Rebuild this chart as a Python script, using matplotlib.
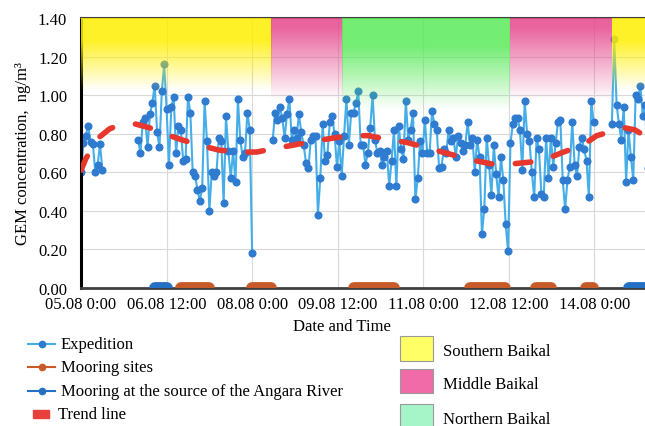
import numpy as np
import pandas as pd
import matplotlib
matplotlib.use("Agg")
import matplotlib.pyplot as plt
import matplotlib.dates as mdates
from matplotlib.lines import Line2D
from matplotlib.patches import Rectangle

plt.rcParams['font.family'] = ['Liberation Serif', 'DejaVu Serif']

## expedition data, hourly values, one list per continuous stretch
exp_starts = ['2019-08-05 00:00', '2019-08-06 00:00', '2019-08-08 08:40', '2019-08-14 07:20']
exp_seg1 = [0.60, 0.75, 0.79, 0.84, 0.755, 0.745, 0.60, 0.64, 0.745, 0.61]
exp_seg2 = [0.77, 0.70, 0.86, 0.88, 0.73, 0.90, 0.96, 1.05, 0.81, 0.73,
            1.02, 1.16, 0.93, 0.64, 0.94, 0.99, 0.70, 0.84, 0.82, 0.66,
            0.67, 0.99, 0.91, 0.60, 0.58, 0.51, 0.45, 0.52, 0.97, 0.76,
            0.40, 0.60, 0.58, 0.60, 0.78, 0.76, 0.44, 0.89, 0.71, 0.57,
            0.71, 0.55, 0.98, 0.77, 0.68, 0.70, 0.91, 0.82, 0.18]
exp_seg3 = [0.77, 0.91, 0.87, 0.94, 0.88, 0.78, 0.90, 0.98, 0.77, 0.82,
            0.78, 0.90, 0.81, 0.74, 0.65, 0.62, 0.77, 0.79, 0.79, 0.38,
            0.57, 0.85, 0.66, 0.69, 0.86, 0.89, 0.80, 0.63, 0.76, 0.58,
            0.79, 0.98, 0.74, 0.91, 0.91, 0.96, 1.02, 0.74, 0.74, 0.64,
            0.70, 0.83, 1.00, 0.77, 0.70, 0.71, 0.64, 0.68, 0.71, 0.53,
            0.66, 0.82, 0.53, 0.84, 0.72, 0.67, 0.97, 0.77, 0.82, 0.91,
            0.46, 0.57, 0.76, 0.70, 0.87, 0.70, 0.70, 0.92, 0.85, 0.82,
            0.62, 0.63, 0.72, 0.70, 0.82, 0.76, 0.78, 0.68, 0.79, 0.75,
            0.71, 0.74, 0.86, 0.74, 0.78, 0.60, 0.77, 0.68, 0.28, 0.41,
            0.78, 0.64, 0.48, 0.74, 0.59, 0.47, 0.68, 0.56, 0.33, 0.19,
            0.75, 0.85, 0.88, 0.88, 0.82, 0.61, 0.97, 0.80, 0.76, 0.60,
            0.47, 0.78, 0.72, 0.49, 0.47, 0.78, 0.57, 0.78, 0.63, 0.75,
            0.86, 0.87, 0.56, 0.41, 0.56, 0.63, 0.86, 0.64, 0.58, 0.73,
            0.78, 0.72, 0.66, 0.47, 0.97, 0.86]
exp_seg4 = [0.85, 1.29, 0.95, 0.85, 0.77, 0.94, 0.55, 0.82, 0.68, 0.56,
            1.00, 0.98, 1.05, 0.89, 0.95, 0.62, 0.75]

## trend line (hours since 05.08 0:00)
trend_h = [0, 2, 4, 6, 8, 12, 16, 23, 29, 35, 42, 50, 58, 67, 74, 82, 89, 97, 105, 113,
           121, 129, 137, 143, 152, 158, 166, 173, 181, 189, 196, 203, 211, 217, 224,
           229, 233, 237, 241, 252]
trend_v = [0.61, 0.67, 0.71, 0.75, 0.785, 0.825, 0.845, 0.85, 0.83, 0.80, 0.77, 0.74,
           0.715, 0.705, 0.705, 0.725, 0.74, 0.76, 0.775, 0.79, 0.79, 0.77, 0.755, 0.735,
           0.705, 0.685, 0.66, 0.643, 0.643, 0.653, 0.67, 0.705, 0.74, 0.79, 0.815, 0.83,
           0.82, 0.79, 0.76, 0.70]

## mooring periods
mooring_sites = [('2019-08-06 18:00', '2019-08-07 06:00'), ('2019-08-08 00:00', '2019-08-08 08:00'),
                 ('2019-08-09 19:00', '2019-08-10 11:30'), ('2019-08-11 19:30', '2019-08-12 10:30'),
                 ('2019-08-12 23:30', '2019-08-13 05:40'), ('2019-08-13 20:20', '2019-08-13 23:20')]
mooring_angara = [('2019-08-06 07:00', '2019-08-06 12:00'), ('2019-08-14 14:30', '2019-08-15 12:00')]

## lake basins along the route
basin_names = ['Southern', 'Middle', 'Northern', 'Middle', 'Southern']
basin_edges = ['2019-08-05 00:00', '2019-08-08 08:00', '2019-08-09 14:00',
               '2019-08-12 12:30', '2019-08-14 07:20', '2019-08-15 12:00']

basin_style = {
    'Southern': ((1.0, 0.94, 0.0), 1.28, 1.02),
    'Middle': ((0.90, 0.28, 0.55), 1.35, 0.97),
    'Northern': ((0.36, 0.92, 0.36), 1.25, 0.92),
}

c_line = '#45AEE8'
c_mark = '#2F7BD0'
c_orange = '#C65A28'
c_blue = '#2470C4'
c_red = '#E8372C'

W, H = 645, 427
fig = plt.figure(figsize=(W / 100, H / 100), dpi=100)
ax = fig.add_axes([81 / W, 138 / H, 599 / W, 270 / H])

t0 = pd.Timestamp(basin_edges[0])
t_end = pd.Timestamp(basin_edges[-1])

# expedition
for start, seg in zip(exp_starts, [exp_seg1, exp_seg2, exp_seg3, exp_seg4]):
    t = pd.date_range(start, periods=len(seg), freq='h')
    ax.plot(t, seg, color=c_line, lw=1.5, marker='o', ms=4.8, mfc=c_mark, mec=c_mark, zorder=2)

# gradient overlays for basins
yy = np.linspace(1.4, 0.9, 200)
for i, name in enumerate(basin_names):
    rgb, v1, v0 = basin_style[name]
    a = 0.85 * np.clip((yy - v0) / (v1 - v0), 0, 1)
    img = np.zeros((len(yy), 1, 4))
    img[:, 0, :3] = rgb
    img[:, 0, 3] = a
    x0 = mdates.date2num(pd.Timestamp(basin_edges[i]))
    x1 = mdates.date2num(pd.Timestamp(basin_edges[i + 1]))
    ax.imshow(img, extent=[x0, x1, 0.9, 1.4], aspect='auto', zorder=3, interpolation='bilinear')

# trend
trend_t = t0 + pd.to_timedelta(trend_h, unit='h')
ax.plot(trend_t, trend_v, color=c_red, lw=4, dashes=(2.8, 4.2), dash_capstyle='round', zorder=5)

# mooring bars
for s, e in mooring_sites:
    ax.plot([pd.Timestamp(s), pd.Timestamp(e)], [0, 0], color=c_orange, lw=8.5,
            solid_capstyle='round', zorder=6)
for s, e in mooring_angara:
    ax.plot([pd.Timestamp(s), pd.Timestamp(e)], [0, 0], color=c_blue, lw=8.5,
            solid_capstyle='round', zorder=6)

ax.set_xlim(t0, t_end)
ax.set_ylim(0, 1.4)
ax.set_yticks(np.arange(0, 1.41, 0.2))
ax.set_yticklabels([f'{v:.2f}' for v in np.arange(0, 1.41, 0.2)])
xt = pd.date_range(t0, periods=7, freq='36h')
ax.set_xticks(xt)
ax.set_xticklabels([f'{d:%d.%m} {d.hour}:{d:%M}' for d in xt])
ax.tick_params(length=0, labelsize=12, colors='black')
ax.tick_params(axis='y', pad=10)
ax.tick_params(axis='x', pad=6)
ax.grid(color='#d9d9d9', lw=0.8)
ax.set_axisbelow(True)
ax.spines['left'].set_linewidth(2.2)
ax.spines['left'].set_color('black')
ax.spines['bottom'].set_linewidth(2)
ax.spines['bottom'].set_color('#404040')
ax.spines['top'].set_linewidth(1.5)
ax.spines['top'].set_color('#404040')
ax.spines['right'].set_visible(False)

ax.set_ylabel('GEM concentration,  ng/m³', fontsize=12)
ax.yaxis.set_label_coords(-0.083, 0.5)
fig.text(342 / W, 1 - 327 / H, 'Date and Time', fontsize=12, ha='center', va='center')

## legend, drawn by hand
def fx(px):
    return px / W

def fy(py):
    return 1 - py / H

leg_lines = [('Expedition', c_line, c_mark, 345), ('Mooring sites', c_orange, c_orange, 368),
             ('Mooring at the source of the Angara River', c_blue, c_blue, 392)]
for label, lc, mc, py in leg_lines:
    fig.add_artist(Line2D([fx(28), fx(55)], [fy(py), fy(py)], color=lc, lw=1.5,
                          transform=fig.transFigure))
    fig.add_artist(Line2D([fx(41.5)], [fy(py)], marker='o', ms=4.5, color=mc,
                          transform=fig.transFigure))
    fig.text(fx(61), fy(py), label, fontsize=12, va='center')
fig.add_artist(Rectangle((fx(33), fy(419)), fx(49) - fx(33), fy(411) - fy(419),
                         color='#E8403A', transform=fig.transFigure))
fig.text(fx(58), fy(415), 'Trend line', fontsize=12, va='center')

patches = [('Southern Baikal', '#FFFF66', 337, 362), ('Middle Baikal', '#F06BA8', 370, 394),
           ('Northern Baikal', '#A6F5C8', 405, 430)]
for label, col, top, bot in patches:
    fig.add_artist(Rectangle((fx(400), fy(bot)), fx(433) - fx(400), fy(top) - fy(bot),
                             facecolor=col, edgecolor='#9a9a9a', lw=0.8, transform=fig.transFigure))
    fig.text(fx(443), fy((top + bot) / 2 + 3), label, fontsize=12, va='center')

fig.savefig('out.png', dpi=100)
